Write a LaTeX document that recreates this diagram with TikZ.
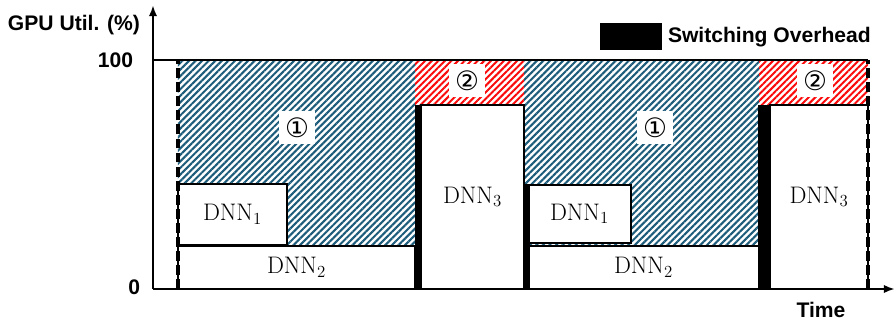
\documentclass[tikz,border=0pt]{standalone}
\usepackage{fontspec}
\usepackage{amsmath}
\usepackage{tikz}
\usepackage{xcolor}
\usetikzlibrary{arrows.meta, patterns.meta, positioning}

\newfontfamily\labelfont{Liberation Sans}
\newfontfamily\circfont{DejaVu Sans}
\definecolor{hatchblue}{RGB}{28,92,122}
\definecolor{hatchred}{RGB}{250,10,10}
\def\unitpx{0.025cm}

\begin{document}
\begin{tikzpicture}[x=\unitpx, y=\unitpx,
    every node/.style={outer sep=0pt, inner sep=0pt},
    axislabel/.style={font=\labelfont\bfseries\fontsize{15}{17}\selectfont},
    dnnbox/.style={draw=black, line width=1.4pt, fill=white, anchor=south west,
        font=\fontsize{17}{19}\selectfont},
    phasetag/.style={fill=white, minimum width=36*\unitpx, minimum height=33*\unitpx,
        font=\circfont\fontsize{19}{19}\selectfont},
    bluehatch/.style={pattern={Lines[angle=45, distance=3.3pt, line width=1.5pt]}, pattern color=hatchblue},
    redhatch/.style={pattern={Lines[angle=45, distance=3.3pt, line width=1.4pt]}, pattern color=hatchred},
    axisline/.style={line width=1.8pt, -{Latex[length=8pt, width=6pt]}},
    phaseline/.style={line width=2.2pt, dash pattern=on 7pt off 3pt}]
    \useasboundingbox (-153,-33) rectangle (742,289);

    % Graphic area
    \fill[bluehatch] (25,43) rectangle (262,229);
    \fill[redhatch] (262,184) rectangle (371,229);
    \fill[bluehatch] (371,43) rectangle (606,229);
    \fill[redhatch] (606,184) rectangle (715,229);

    \node[dnnbox, minimum width=109*\unitpx, minimum height=61*\unitpx] (dnnOneA) at (25,44) {$\mathrm{DNN}_1$};
    \node[dnnbox, minimum width=237*\unitpx, minimum height=43*\unitpx] (dnnTwoA) at (25,0) {$\mathrm{DNN}_2$};
    \node[dnnbox, minimum width=103*\unitpx, minimum height=184*\unitpx] (dnnThreeA) at (268,0) {$\mathrm{DNN}_3$};
    \node[dnnbox, minimum width=103*\unitpx, minimum height=58*\unitpx] (dnnOneB) at (375,46) {$\mathrm{DNN}_1$};
    \node[dnnbox, minimum width=231*\unitpx, minimum height=43*\unitpx] (dnnTwoB) at (375,0) {$\mathrm{DNN}_2$};
    \node[dnnbox, minimum width=98*\unitpx, minimum height=184*\unitpx] (dnnThreeB) at (617,0) {$\mathrm{DNN}_3$};

    % switching bars
    \fill (262,0) rectangle (269,184);
    \fill (370,0) rectangle (377,105);
    \fill (605,0) rectangle (617,184);

    \node[phasetag] (phaseOneA) at (144,161) {①};
    \node[phasetag] (phaseTwoA) at (314,208) {②};
    \node[phasetag] (phaseOneB) at (502,161) {①};
    \node[phasetag] (phaseTwoB) at (662,208) {②};

    \draw[phaseline] (25,0) -- (25,229);
    \draw[phaseline] (715,0) -- (715,229);

    % Axes
    \coordinate (origin) at (0,0);
    \coordinate (ytop) at (0,284);
    \coordinate (xend) at (742,0);
    \coordinate (fullleft) at (0,229);
    \coordinate (fullright) at (715,229);
    \draw[axisline] (origin) -- (ytop);
    \draw[axisline] (origin) -- (xend);
    \draw[line width=2pt] (fullleft) -- (fullright);

    \node[axislabel, anchor=east] (ylabel) at (-13,264) {GPU Util. (\%)};
    \node[axislabel, anchor=east] (hundred) at (-20,229) {100};
    \node[axislabel, anchor=east] (zero) at (-13,2) {0};
    \node[axislabel] (timelabel) at (668,-21) {Time};

    % Legend
    \node[fill=black, minimum width=62*\unitpx, minimum height=27*\unitpx] (switchkey) at (478,252) {};
    \node[axislabel, right=6*\unitpx of switchkey] (switchtext) {Switching Overhead};

\end{tikzpicture}
\end{document}
